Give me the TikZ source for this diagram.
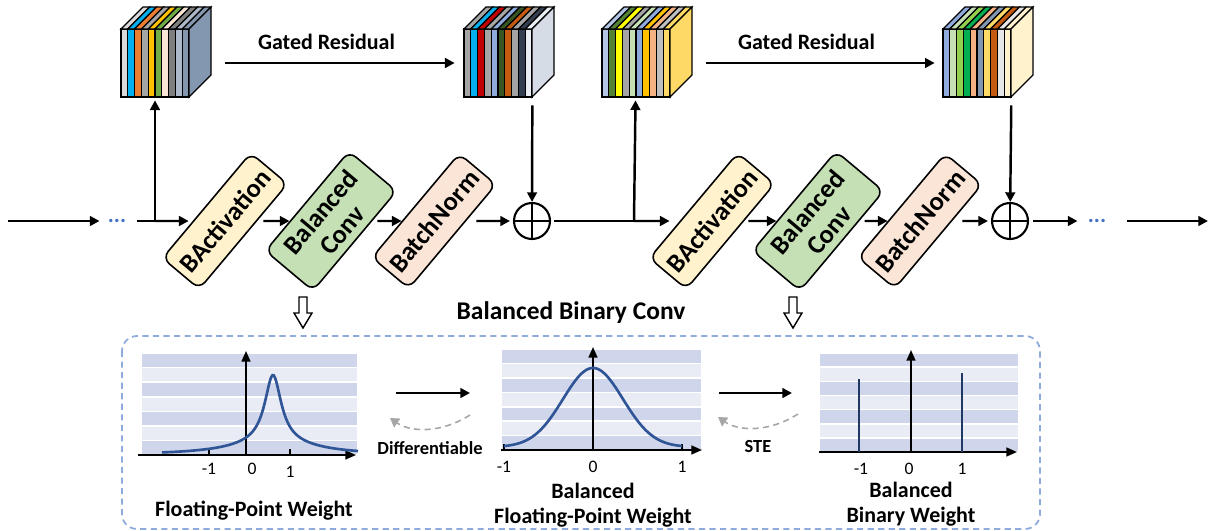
\documentclass[tikz,border=0pt]{standalone}
\usepackage{fontspec}
\setmainfont{Carlito}
\usetikzlibrary{arrows.meta, calc}
\definecolor{lgray}{HTML}{D9D9D9}
\definecolor{cyanb}{HTML}{00B0F0}
\definecolor{orng}{HTML}{ED7D31}
\definecolor{mgray}{HTML}{A5A5A5}
\definecolor{gold}{HTML}{FFC000}
\definecolor{grn}{HTML}{70AD47}
\definecolor{peach}{HTML}{FBE5D6}
\definecolor{dgray}{HTML}{7F7F7F}
\definecolor{steell}{HTML}{ADB9CA}
\definecolor{steel}{HTML}{8497B0}
\definecolor{dred}{HTML}{C00000}
\definecolor{lblue}{HTML}{8FAADC}
\definecolor{dgreen}{HTML}{375623}
\definecolor{brown}{HTML}{C55A11}
\definecolor{navy}{HTML}{333F50}
\definecolor{pale}{HTML}{D6DCE5}
\definecolor{paler}{HTML}{E9EDF4}
\definecolor{paleblue}{HTML}{B4C7E7}
\definecolor{olive}{HTML}{548235}
\definecolor{yell}{HTML}{FFFF00}
\definecolor{mint}{HTML}{C5E0B4}
\definecolor{salmon}{HTML}{F4B183}
\definecolor{sgray}{HTML}{BFBFBF}
\definecolor{lgold}{HTML}{FFD966}
\definecolor{lime}{HTML}{92D050}
\definecolor{emer}{HTML}{00B050}
\definecolor{silver}{HTML}{E7E6E6}
\definecolor{cream}{HTML}{FFF2CC}
\definecolor{dotblue}{HTML}{4472C4}
\definecolor{banddark}{HTML}{CFD5EA}
\definecolor{bandlight}{HTML}{E9EBF5}
\definecolor{curveblue}{HTML}{2F5597}
\definecolor{barblue}{HTML}{1F3864}
\definecolor{framebl}{HTML}{8FAADC}
\definecolor{backgray}{HTML}{A6A6A6}
\tikzstyle{arrow} = [line width=1.4pt, -{Triangle[length=5.5pt,width=5.5pt]}]
\tikzstyle{axisarrow} = [line width=1pt, -{Triangle[length=6pt,width=5pt]}]
\tikzstyle{backarrow} = [line width=0.9pt, backgray, dash pattern=on 3.5pt off 2.5pt, -{Triangle[length=5pt,width=6pt]}]
\tikzstyle{actbox} = [rectangle, rounded corners=5pt, draw=black, line width=0.9pt, fill=cream, rotate=50, minimum width=2.7cm, minimum height=0.96cm, align=center, font=\fontsize{15}{16}\selectfont\bfseries]
\tikzstyle{convbox} = [actbox, fill=mint, minimum width=2.6cm, minimum height=1.24cm]
\tikzstyle{normbox} = [actbox, fill=peach]
\tikzstyle{sumnode} = [circle, draw=black, line width=1.2pt, minimum size=0.72cm, inner sep=0pt, path picture={\draw[line width=1.2pt] (path picture bounding box.north) -- (path picture bounding box.south) (path picture bounding box.west) -- (path picture bounding box.east);}]
\tikzstyle{cubeface} = [rectangle, minimum width=1.36cm, minimum height=1.36cm, inner sep=0pt]
\tikzstyle{dots} = [inner sep=0pt, text=dotblue, font=\fontsize{13}{14}\selectfont\bfseries]
\tikzstyle{label} = [font=\fontsize{12.5}{14}\selectfont\bfseries, align=center]
\tikzstyle{tick} = [font=\fontsize{10}{11}\selectfont]
\tikzstyle{curve} = [line width=1.5pt, curveblue]
\newcommand{\featcube}[4]{%
  \node (#1) [cubeface] at (#2,63) {};
  \foreach \col [count=\i from 0] in {#3} {
    \pgfmathsetmacro{\xa}{#2-34+6.8*\i}
    \pgfmathsetmacro{\xb}{\xa+6.8}
    \filldraw[fill=\col, draw=black, line width=0.7pt] (\xa,29) rectangle (\xb,97);
    \filldraw[fill=\col, draw=black, line width=0.7pt] (\xa,29) -- (\xb,29) -- (\xb+22,7) -- (\xa+22,7) -- cycle;
  }
  \filldraw[fill=#4, draw=black, line width=0.7pt] (#2+34,29) -- (#2+56,7) -- (#2+56,75) -- (#2+34,97) -- cycle;
}
\newcommand{\bands}[4]{%
  \foreach \i/\col in {0/banddark,1/bandlight,2/banddark,3/bandlight,4/banddark,5/bandlight,6/banddark} {
    \filldraw[fill=\col, draw=white, line width=0.9pt] (#1,{#3+(#4-#3)*\i/7}) rectangle (#2,{#3+(#4-#3)*(\i+1)/7});
  }
}
\newcommand{\hollowdown}[1]{%
  \draw[line width=0.8pt, fill=white] (#1-4,297) -- (#1+4,297) -- (#1+4,313) -- (#1+9,313) -- (#1,328) -- (#1-9,313) -- (#1-4,313) -- cycle;
}

\begin{document}
\begin{tikzpicture}[x=0.02cm, y=-0.02cm]
\useasboundingbox (0,0) rectangle (1211,531);

\featcube{cube1}{155}{lgray,cyanb,orng,mgray,gold,grn,peach,dgray,steell,steel}{steel}
\featcube{cube2}{498}{mgray,cyanb,dred,mgray,lblue,dgreen,brown,mgray,navy,paler}{pale}
\featcube{cube3}{636}{paleblue,olive,yell,mgray,mint,lblue,gold,salmon,sgray,lgold}{lgold}
\featcube{cube4}{977}{lblue,mint,lime,emer,salmon,steel,lgold,brown,silver,cream}{cream}

\coordinate (start) at (8,221);
\node (dots1) [dots] at (117,221) {...};
\coordinate (br1) at (155,221);
\node (act1) [actbox] at (225,221) {BActivation};
\node (conv1) [convbox] at (331,221) {Balanced\\Conv};
\node (bn1) [normbox] at (434,221) {BatchNorm};
\node (sum1) [sumnode] at (532,221) {};
\coordinate (br2) at (634,221);
\node (act2) [actbox] at (712,221) {BActivation};
\node (conv2) [convbox] at (818,221) {Balanced\\Conv};
\node (bn2) [normbox] at (920,221) {BatchNorm};
\node (sum2) [sumnode] at (1010,221) {};
\node (dots2) [dots] at (1097,221) {...};
\coordinate (end) at (1208,221);

\draw [arrow, shorten >=0.16cm] (start) -- (dots1);
\draw [line width=1.4pt, shorten <=0.2cm] (dots1) -- (br1);
\draw [arrow, shorten >=0.08cm] (br1) -- (act1);
\draw [arrow, shorten >=0.06cm] (br1) -- (cube1);
\draw [arrow, shorten <=0.12cm] (act1) -- (conv1);
\draw [arrow, shorten <=0.1cm] (conv1) -- (bn1);
\draw [arrow, shorten <=0.2cm, shorten >=0.06cm] (bn1) -- (sum1);
\draw [arrow, shorten <=0.16cm] (cube2.south east) -- (sum1);
\draw [arrow, shorten <=0.72cm, shorten >=0.18cm] (cube1) -- node[label, above=0.12cm] {Gated Residual} (cube2);
\draw [line width=1.4pt, shorten <=0.06cm] (sum1) -- (br2);
\draw [arrow, shorten >=0.2cm] (br2) -- (act2);
\draw [arrow, shorten >=0.06cm] (br2) -- (cube3);
\draw [arrow, shorten <=0.08cm] (act2) -- (conv2);
\draw [arrow, shorten <=0.1cm] (conv2) -- (bn2);
\draw [arrow, shorten <=0.2cm, shorten >=0.06cm] (bn2) -- (sum2);
\draw [arrow, shorten <=0.16cm] (cube4.south east) -- (sum2);
\draw [arrow, shorten <=0.72cm, shorten >=0.16cm] (cube3) -- node[label, above=0.12cm] {Gated Residual} (cube4);
\draw [arrow, shorten <=0.08cm, shorten >=0.2cm] (sum2) -- (dots2);
\draw [arrow, shorten <=0.4cm] (dots2) -- (end);

\hollowdown{303}
\hollowdown{793}
\node (title) [label, font=\fontsize{14.5}{16}\selectfont\bfseries] at (571,313) {Balanced Binary Conv};
\draw [framebl, line width=1pt, dash pattern=on 3.5pt off 2.5pt, rounded corners=0.3cm] (122,336) rectangle (1040,529);

% floating-point weight
\bands{141}{358}{353}{455}
\draw [axisarrow] (138,455) -- (356,455);
\draw [axisarrow] (246,455) -- (246,351);
\draw [line width=0.8pt] (209,449) -- (209,455) (290,449) -- (290,455);
\draw [curve] plot[domain=162:358, samples=150, smooth] (\x, {455 - 68/(1+((\x-273)/10)^2) - 12/(1+((\x-273)/50)^2)});
\node (t1a) [tick] at (209,469) {-1};
\node (t1b) [tick] at (252,469) {0};
\node (t1c) [tick] at (290,472) {1};
\node (lbl1) [label] at (254,511) {Floating-Point Weight};

\coordinate (fwd1s) at (396,393);
\coordinate (fwd1e) at (470,393);
\draw [arrow] (fwd1s) -- (fwd1e);
\coordinate (bck1s) at (470,415);
\coordinate (bck1e) at (390,418);
\draw [backarrow] (bck1s) .. controls (440,434) and (410,432) .. (bck1e);
\node (diff) [label, font=\fontsize{10.5}{12}\selectfont\bfseries] at (430,448) {Differentiable};

% balanced floating-point weight
\bands{501}{702}{349}{450}
\draw [axisarrow] (501,450) -- (702,450);
\draw [axisarrow] (593,450) -- (593,347);
\draw [line width=0.8pt] (504,444) -- (504,450) (682,444) -- (682,450);
\draw [curve] plot[domain=504:682, samples=150, smooth] (\x, {447 - 79*exp(-((\x-593)/30)^2/2)});
\node (t2a) [tick] at (504,467) {-1};
\node (t2b) [tick] at (593,467) {0};
\node (t2c) [tick] at (682,467) {1};
\node (lbl2) [label] at (593,505) {Balanced\\Floating-Point Weight};

\coordinate (fwd2s) at (719,393);
\coordinate (fwd2e) at (792,393);
\draw [arrow] (fwd2s) -- (fwd2e);
\coordinate (bck2s) at (798,414);
\coordinate (bck2e) at (718,417);
\draw [backarrow] (bck2s) .. controls (768,433) and (738,431) .. (bck2e);
\node (ste) [label, font=\fontsize{10.5}{12}\selectfont\bfseries] at (758,447) {STE};

% balanced binary weight
\bands{819}{1019}{353}{452}
\draw [axisarrow] (819,452) -- (1017,452);
\draw [axisarrow] (911,452) -- (911,350);
\draw [line width=1.6pt, barblue] (859,379) -- (859,452) (962,373) -- (962,452);
\node (t3a) [tick] at (861,469) {-1};
\node (t3b) [tick] at (909,469) {0};
\node (t3c) [tick] at (962,469) {1};
\node (lbl3) [label] at (911,504) {Balanced\\Binary Weight};
\end{tikzpicture}
\end{document}
